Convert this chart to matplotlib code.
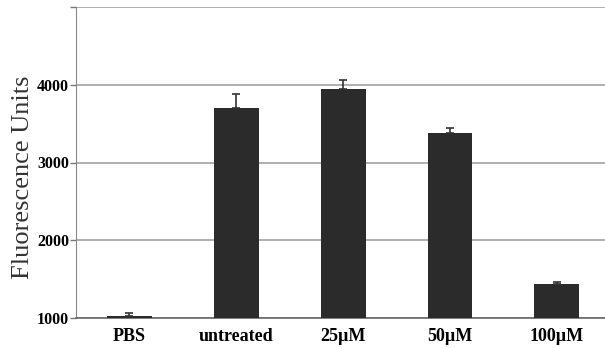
import matplotlib
matplotlib.use("Agg")
import matplotlib.pyplot as plt

# data
categories = ["PBS", "untreated", "25\u00b5M", "50\u00b5M", "100\u00b5M"]
values = [1030, 3706, 3946, 3378, 1435]
errors = [40, 175, 115, 70, 30]
base = 1000
yticks = [1000, 2000, 3000, 4000]

plt.rcParams['font.family'] = ['Liberation Serif', 'DejaVu Serif']

fig = plt.figure(figsize=(6.05, 3.48), dpi=100)
ax = fig.add_axes([76 / 605, 1 - 318 / 348, 1 - 76 / 605, (318 - 7) / 348])

x = list(range(len(categories)))
heights = [v - base for v in values]
ax.bar(x, heights, bottom=base, width=0.42, color="#2b2b2b", zorder=3)
ax.errorbar(x, values, yerr=[[0] * len(errors), errors], fmt="none",
            ecolor="#333333", elinewidth=1.2, capsize=3, capthick=1.2, zorder=4)

ax.set_xlim(-0.5, 4.45)
ax.set_ylim(1000, 5000)
ax.set_yticks(yticks + [5000])
ax.set_yticklabels([str(t) for t in yticks] + [""], fontweight="bold", fontsize=11.5)
ax.set_xticks(x)
ax.set_xticklabels(categories, fontweight="bold", fontsize=13)
ax.tick_params(axis="x", length=0, pad=7)
ax.tick_params(axis="y", length=4, width=1, color="#777777", pad=1)

ax.grid(axis="y", color="#9a9a9a", linewidth=1.1, zorder=0)
for s in ["top", "right"]:
    ax.spines[s].set_visible(False)
ax.spines["left"].set_color("#888888")
ax.spines["bottom"].set_color("#666666")
ax.spines["bottom"].set_linewidth(1.2)

ax.set_ylabel("Fluorescence Units", fontsize=19, color="#333333")
ax.yaxis.set_label_coords(-0.08, 0.453)

fig.savefig("out.png", dpi=100)
